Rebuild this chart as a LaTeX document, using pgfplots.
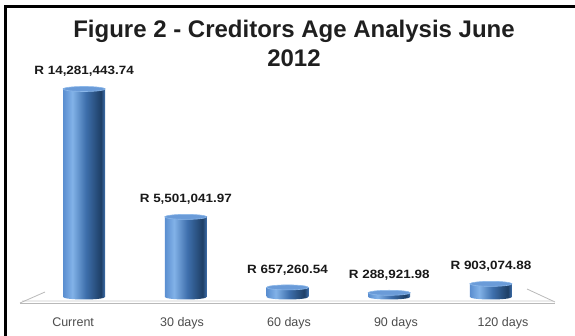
\documentclass[border=0pt]{standalone}
\usepackage{pgfplots}
\pgfplotsset{compat=1.18}
\usepackage{pgfplotstable}
\usepackage{fontspec}
\setmainfont{Liberation Sans}
\newfontfamily\lblfont[FakeStretch=1.12]{Liberation Sans}

\definecolor{cA}{HTML}{5A8ED0}
\definecolor{cB}{HTML}{82B2E8}
\definecolor{cC}{HTML}{3E6FAC}
\definecolor{cD}{HTML}{1E3F66}
\definecolor{capc}{HTML}{6A9BD8}
\definecolor{capedge}{HTML}{8CB8EA}
\pgfdeclarehorizontalshading{cyl}{100bp}{color(0bp)=(cA); color(25bp)=(cA); color(36bp)=(cB); color(52bp)=(cC); color(70bp)=(cD); color(75bp)=(cC); color(100bp)=(cC)}

\pgfdeclareplotmark{cyltop}{%
  \pgfpathellipse{\pgfpointorigin}{\pgfpoint{21pt}{0pt}}{\pgfpoint{0pt}{2.5pt}}%
  \pgfusepathqfillstroke}
\pgfdeclareplotmark{cylbot}{%
  \pgfpathmoveto{\pgfpoint{-21pt}{0pt}}%
  \pgfpatharc{180}{360}{21pt and 2.5pt}%
  \pgfpathclose
  \pgfshadepath{cyl}{0}\pgfusepath{discard}}

\pgfplotstableread[col sep=semicolon]{
x;y;base;label
0;14281443.74;0;R 14,281,443.74
1;5501041.97;0;R 5,501,041.97
2;657260.54;0;R 657,260.54
3;288921.98;0;R 288,921.98
4;903074.88;0;R 903,074.88
}\datatable

\begin{document}
\begin{tikzpicture}[x=1pt,y=1pt]
\path[use as bounding box] (0,0) rectangle (575,336);
\draw[line width=3pt, black] (5.5,0) -- (5.5,329.5) -- (575,329.5);
% floor
\draw[line width=2pt, gray!15] (22,35) -- (553,35);
\draw[line width=0.9pt, gray!55] (20,33) -- (555,33);
\draw[line width=0.8pt, gray!55] (20,33) -- (45,44);
\draw[line width=0.8pt, gray!55] (555,34) -- (527,47);
\node[font=\bfseries\fontsize{24}{29}\selectfont, text=black!88, anchor=base, inner sep=0pt] at (294,298) {Figure 2 - Creditors Age Analysis June};
\node[font=\bfseries\fontsize{24}{29}\selectfont, text=black!88, anchor=base, inner sep=0pt] at (294,269) {2012};
\begin{axis}[
  at={(20pt,39pt)}, anchor=south west,
  scale only axis, width=535pt, height=233.03pt,
  xmin=-0.63, xmax=4.63, ymin=0, ymax=16000000,
  clip=false,
  axis line style={draw=none}, major tick style={draw=none},
  ytick=\empty,
  xtick={-0.108,0.963,2.015,3.066,4.118},
  xticklabels={Current,30 days,60 days,90 days,120 days},
  xticklabel style={font=\fontsize{12.5}{14}\selectfont, text=black!70, anchor=base, yshift=-30pt, inner sep=0pt},
  cylbar/.style={ybar, bar width=42pt, bar shift=0pt, draw=none, shading=cyl, forget plot},
]
\addplot[cylbar] table[x=x, y=y, restrict x to domain=-0.4:0.4] {\datatable};
\addplot[cylbar] table[x=x, y=y, restrict x to domain=0.6:1.4] {\datatable};
\addplot[cylbar] table[x=x, y=y, restrict x to domain=1.6:2.4] {\datatable};
\addplot[cylbar] table[x=x, y=y, restrict x to domain=2.6:3.4] {\datatable};
\addplot[cylbar] table[x=x, y=y, restrict x to domain=3.6:4.4] {\datatable};
\addplot[only marks, mark=cylbot] table[x=x, y=base] {\datatable};
\addplot[only marks, mark=cyltop, mark options={fill=capc, draw=capedge, line width=0.6pt},
  point meta=explicit symbolic,
  nodes near coords,
  every node near coord/.append style={font=\lblfont\bfseries\fontsize{12}{14}\selectfont, text=black!90, anchor=base, yshift=14pt, inner sep=0pt}
] table[x=x, y=y, meta=label] {\datatable};
\end{axis}
\end{tikzpicture}
\end{document}
